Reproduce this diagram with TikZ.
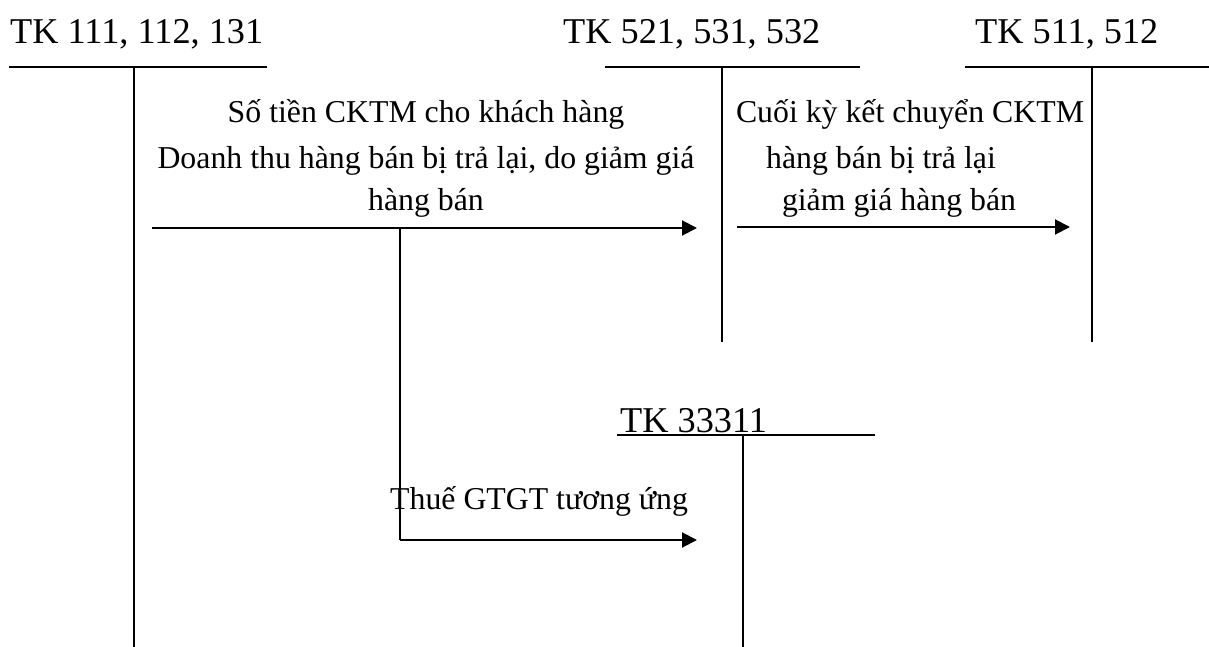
\documentclass[tikz,border=0pt]{standalone}
\usepackage{fontspec}
\setmainfont{Liberation Serif}
\usetikzlibrary{arrows.meta}
\begin{document}
\begin{tikzpicture}[x=1pt,y=-1pt,
  acct/.style={line width=2pt},
  flow/.style={line width=2pt,-{Triangle[length=15pt,width=15pt]}},
  plain/.style={line width=2pt},
  title/.style={font=\fontsize{36.3}{40}\selectfont,anchor=base west,inner sep=0pt},
  txt/.style={font=\fontsize{31.8}{36}\selectfont,anchor=base,inner sep=0pt}]
\useasboundingbox (0,0) rectangle (1209,647);
% T-account 1
\node[title] (t1) at (10,44) {TK 111, 112, 131};
\coordinate (a1l) at (9,67); \coordinate (a1r) at (267,67);
\coordinate (a1t) at (134,67); \coordinate (a1b) at (134,647);
\draw[acct] (a1l) -- (a1r);
\draw[acct] (a1t) -- (a1b);
% T-account 2
\node[title] (t2) at (563,44) {TK 521, 531, 532};
\coordinate (a2l) at (605,67); \coordinate (a2r) at (860,67);
\coordinate (a2t) at (722,67); \coordinate (a2b) at (722,342);
\draw[acct] (a2l) -- (a2r);
\draw[acct] (a2t) -- (a2b);
% T-account 3
\node[title] (t3) at (975,44) {TK 511, 512};
\coordinate (a3l) at (965,67); \coordinate (a3r) at (1209,67);
\coordinate (a3t) at (1092,67); \coordinate (a3b) at (1092,342);
\draw[acct] (a3l) -- (a3r);
\draw[acct] (a3t) -- (a3b);
% T-account 4
\node[title] (t4) at (620,432) {TK 33311};
\coordinate (a4l) at (617,435); \coordinate (a4r) at (875,435);
\coordinate (a4t) at (743,435); \coordinate (a4b) at (743,647);
\draw[acct] (a4l) -- (a4r);
\draw[acct] (a4t) -- (a4b);
% texts
\node[txt] (s1) at (426,123) {Số tiền CKTM cho khách hàng};
\node[txt] (s2) at (426,168) {Doanh thu hàng bán bị trả lại, do giảm giá};
\node[txt] (s3) at (426,211) {hàng bán};
\node[txt] (c1) at (910,123) {Cuối kỳ kết chuyển CKTM};
\node[txt] (c2) at (881,168) {hàng bán bị trả lại};
\node[txt] (c3) at (899,211) {giảm giá hàng bán};
\node[txt,anchor=base west] (v1) at (390,509) {Thuế GTGT tương ứng};
% arrows
\coordinate (f1s) at (152,228); \coordinate (f1e) at (697,228);
\draw[flow] (f1s) -- (f1e);
\coordinate (f2s) at (737,227); \coordinate (f2e) at (1070,227);
\draw[flow] (f2s) -- (f2e);
\coordinate (br) at (400,228); \coordinate (bc) at (400,540); \coordinate (f3e) at (697,540);
\draw[plain] (br) -- (bc);
\draw[flow] (bc) -- (f3e);
\end{tikzpicture}
\end{document}
